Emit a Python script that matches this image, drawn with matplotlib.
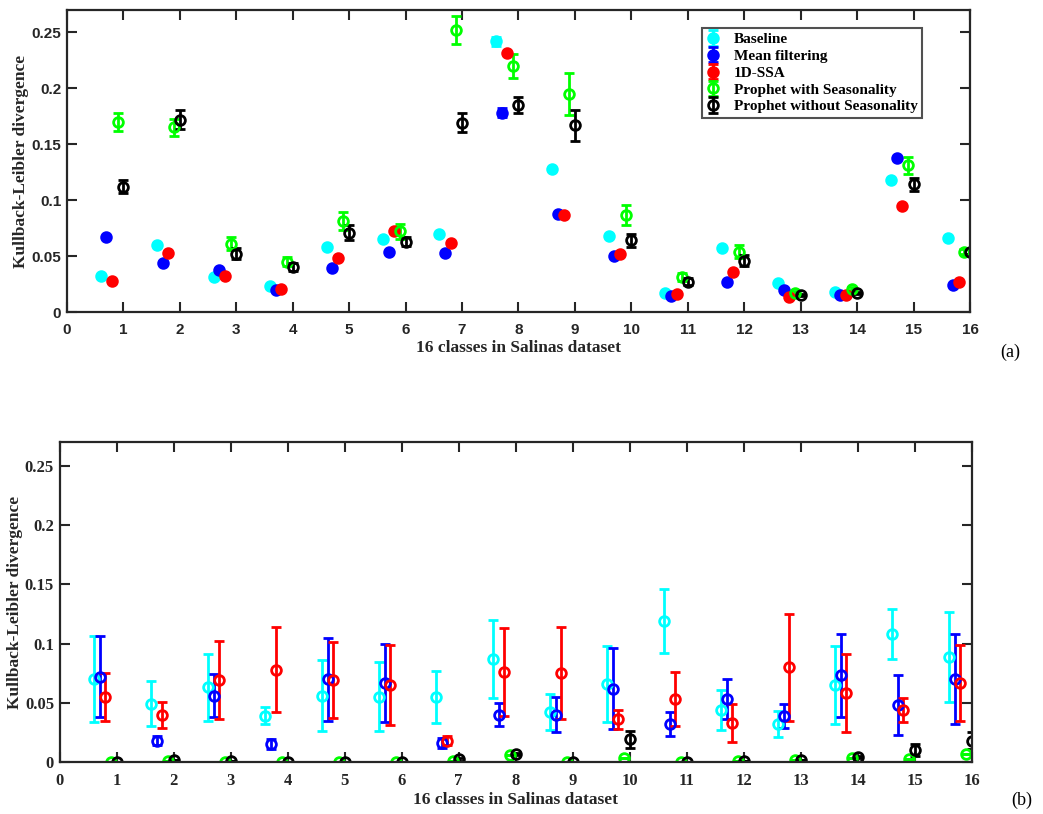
import numpy as np
import matplotlib.pyplot as plt
from matplotlib.ticker import FuncFormatter

plt.rcParams['font.family'] = ['Liberation Serif', 'DejaVu Serif']
plt.rcParams['font.weight'] = 'bold'

classes = np.arange(1, 17)
names = ['Baseline', 'Mean filtering', '1D-SSA',
         'Prophet with Seasonality', 'Prophet without Seasonality']
colors = ['#00FFFF', '#0000FF', '#FF0000', '#00FF00', '#000000']
offsets = [-0.4, -0.3, -0.2, -0.1, 0.0]

# (a) mean KL divergence and error per class
a_base = [0.032, 0.060, 0.031, 0.023, 0.058, 0.065, 0.070, 0.242,
          0.128, 0.068, 0.017, 0.057, 0.026, 0.018, 0.118, 0.066]
a_mean = [0.067, 0.044, 0.038, 0.020, 0.039, 0.054, 0.053, 0.178,
          0.088, 0.050, 0.014, 0.027, 0.020, 0.015, 0.138, 0.024]
a_ssa = [0.028, 0.053, 0.032, 0.021, 0.048, 0.072, 0.062, 0.232,
         0.087, 0.052, 0.016, 0.036, 0.013, 0.015, 0.095, 0.027]
a_pws = [0.170, 0.165, 0.061, 0.045, 0.081, 0.072, 0.252, 0.220,
         0.195, 0.087, 0.031, 0.054, 0.017, 0.021, 0.131, 0.054]
a_pwo = [0.112, 0.172, 0.052, 0.040, 0.071, 0.063, 0.169, 0.185,
         0.167, 0.064, 0.027, 0.046, 0.015, 0.017, 0.114, 0.054]
a_base_err = [0.0005] * 7 + [0.004] + [0.0005] * 8
a_mean_err = [0.0005] * 7 + [0.004] + [0.0005] * 8
a_ssa_err = [0.0005] * 16
a_pws_err = [0.008, 0.0076, 0.006, 0.0043, 0.008, 0.0064, 0.0125, 0.011,
             0.019, 0.009, 0.0037, 0.0058, 0.002, 0.001, 0.0077, 0.002]
a_pwo_err = [0.0056, 0.0083, 0.0048, 0.0037, 0.0064, 0.0043, 0.0085, 0.007,
             0.014, 0.006, 0.003, 0.005, 0.001, 0.001, 0.0055, 0.002]

# (b)
b_base = [0.070, 0.049, 0.063, 0.039, 0.056, 0.055, 0.055, 0.087,
          0.042, 0.066, 0.119, 0.044, 0.032, 0.065, 0.108, 0.089]
b_mean = [0.072, 0.018, 0.056, 0.015, 0.070, 0.067, 0.016, 0.040,
          0.040, 0.062, 0.032, 0.053, 0.039, 0.073, 0.048, 0.070]
b_ssa = [0.055, 0.040, 0.069, 0.078, 0.069, 0.065, 0.018, 0.076,
         0.075, 0.036, 0.053, 0.033, 0.080, 0.058, 0.044, 0.067]
b_pws = [0.0, 0.0005, 0.0, 0.0, 0.0, 0.0, 0.001, 0.006,
         0.0, 0.003, 0.0, 0.0005, 0.0014, 0.0034, 0.0022, 0.0065]
b_pwo = [0.0, 0.0014, 0.001, 0.0, 0.0, 0.0, 0.0022, 0.0065,
         0.0, 0.019, 0.0, 0.0005, 0.002, 0.0042, 0.0098, 0.018]
b_base_err = [0.036, 0.019, 0.028, 0.007, 0.030, 0.029, 0.022, 0.033,
              0.015, 0.032, 0.027, 0.017, 0.011, 0.033, 0.021, 0.038]
b_mean_err = [0.034, 0.004, 0.018, 0.004, 0.035, 0.033, 0.004, 0.010,
              0.015, 0.034, 0.010, 0.017, 0.010, 0.035, 0.025, 0.038]
b_ssa_err = [0.020, 0.011, 0.033, 0.036, 0.032, 0.034, 0.004, 0.037,
             0.039, 0.008, 0.023, 0.016, 0.045, 0.033, 0.010, 0.032]
b_pws_err = [0.0] * 16
b_pwo_err = [0.0, 0.0, 0.0, 0.0, 0.0, 0.0, 0.001, 0.001,
             0.0, 0.0075, 0.0, 0.0, 0.0, 0.001, 0.005, 0.0072]

fig = plt.figure(figsize=(10.43, 8.14), dpi=100)
ax1 = fig.add_axes([0.0641, 0.6167, 0.866, 0.371])
ax2 = fig.add_axes([0.0572, 0.0639, 0.8744, 0.393])


def panel(ax, vals, errs, filled, tickfont, ypad):
    for k in range(5):
        mfc = colors[k] if filled[k] else 'none'
        ax.errorbar(classes + offsets[k], vals[k], yerr=errs[k], fmt='o',
                    color=colors[k], mfc=mfc, mec=colors[k], ms=7, mew=2,
                    elinewidth=2, capsize=3.5, capthick=2, label=names[k])
    ax.set_xlim(0, 16)
    ax.set_ylim(0, 0.27)
    ax.set_xticks(range(0, 17))
    ax.set_yticks([0, 0.05, 0.1, 0.15, 0.2, 0.25])
    ax.yaxis.set_major_formatter(FuncFormatter(lambda v, p: '%g' % round(v, 3)))
    ax.tick_params(direction='in', length=7, width=1.5, top=True, right=True,
                   colors='#262626')
    ax.tick_params(axis='x', pad=8)
    ax.tick_params(axis='y', pad=4)
    for lab in ax.get_xticklabels() + ax.get_yticklabels():
        lab.set_fontweight('bold')
        lab.set_family(tickfont[0])
        lab.set_fontsize(tickfont[1])
    for s in ax.spines.values():
        s.set_linewidth(1.6)
        s.set_color('#262626')
    ax.set_xlabel('16 classes in Salinas dataset', fontsize=12.5,
                  fontweight='bold', labelpad=2, color='#262626')
    ax.set_ylabel('Kullback-Leibler divergence', fontsize=12.5,
                  fontweight='bold', color='#262626', labelpad=ypad)


panel(ax1, [a_base, a_mean, a_ssa, a_pws, a_pwo],
      [a_base_err, a_mean_err, a_ssa_err, a_pws_err, a_pwo_err],
      [True, True, True, False, False], ('Liberation Sans', 11), 2)
panel(ax2, [b_base, b_mean, b_ssa, b_pws, b_pwo],
      [b_base_err, b_mean_err, b_ssa_err, b_pws_err, b_pwo_err],
      [False] * 5, ('Liberation Serif', 12), 1)

leg = ax1.legend(loc='upper right', bbox_to_anchor=(0.947, 0.94), fontsize=11,
                 frameon=True, fancybox=False, edgecolor='#262626',
                 handlelength=0.9, handletextpad=0.9, labelspacing=0.2,
                 borderpad=0.3, borderaxespad=0.0)
leg.get_frame().set_linewidth(1.5)
for t in leg.get_texts():
    t.set_fontweight('bold')

fig.text(0.959, 0.567, '(a)', fontsize=13, fontweight='normal', va='center')
fig.text(0.970, 0.017, '(b)', fontsize=13, fontweight='normal', va='center')

fig.savefig('out.png', dpi=100)
